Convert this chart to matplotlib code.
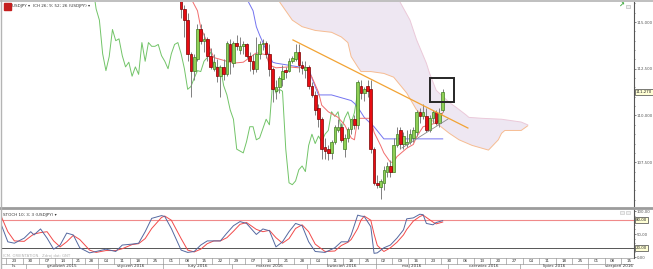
import numpy as np
import pandas as pd
import matplotlib
matplotlib.use('Agg')
import matplotlib.pyplot as plt
from matplotlib.patches import Rectangle

# ---------------- data ----------------
holidays = ['2015-12-25', '2016-01-01']
candle_start = '2016-02-01'

opens = [121.1, 120.9, 119.9, 117.9, 116.8, 116.9, 115.7, 115.1, 113.3, 112.4, 113.0, 114.6, 114.0, 114.1, 113.2,
         112.5, 112.6, 112.1, 112.6, 112.2, 113.8,
         112.8, 113.9, 113.5, 113.7, 113.8, 113.2, 112.9, 112.5, 113.3, 113.8, 113.9, 113.3, 112.5, 111.3, 111.5,
         111.95, 112.45, 112.4, 112.9, 113.0, 113.4, 112.7, 112.45,
         112.6, 111.6, 111.1, 110.4, 109.8, 108.3, 108.2, 108.0, 108.6, 109.25, 109.4, 108.2, 108.8, 109.3, 109.8,
         109.5, 111.6, 111.2, 111.6, 111.4, 108.2,
         106.4, 106.2, 106.4, 107.0, 107.3, 107.0, 108.4, 109.2, 108.5, 108.45, 108.6, 108.8, 109.1, 110.2, 109.95,
         109.95, 109.2, 109.85, 110.2, 109.6, 110.3]
highs = [121.5, 121.0, 120.0, 118.0, 117.8, 117.5, 115.9, 115.5, 113.4, 113.3, 114.9, 114.9, 114.4, 114.2, 113.6,
         113.3, 113.0, 112.7, 113.0, 114.0, 114.1,
         114.0, 114.3, 114.2, 114.0, 113.9, 113.4, 113.3, 114.2, 114.0, 114.1, 114.0, 113.8, 112.6, 111.9, 112.1,
         112.7, 112.6, 113.1, 113.2, 113.8, 113.8, 112.9, 112.9,
         112.7, 111.8, 111.3, 110.6, 109.9, 108.8, 108.4, 108.7, 109.5, 109.8, 109.6, 109.0, 109.4, 109.8, 110.0,
         111.9, 111.9, 111.5, 111.9, 111.9, 108.3,
         106.8, 106.6, 107.3, 107.5, 107.6, 108.8, 109.4, 109.4, 109.1, 109.2, 109.3, 109.4, 110.3, 110.4, 110.6,
         110.4, 110.0, 110.3, 110.3, 110.4, 111.4]
lows = [120.6, 119.8, 117.6, 116.7, 116.5, 115.2, 114.2, 112.9, 111.0, 111.9, 112.9, 113.8, 113.4, 112.9, 112.5,
        112.4, 111.8, 111.0, 111.9, 112.1, 112.2,
        112.6, 113.5, 113.3, 113.3, 113.1, 112.4, 112.2, 112.3, 113.0, 113.5, 113.1, 112.1, 110.7, 110.9, 111.2,
        111.6, 112.0, 112.3, 112.8, 112.9, 112.3, 112.2, 112.0,
        111.4, 111.0, 110.0, 109.4, 107.7, 107.7, 107.6, 107.7, 108.5, 109.1, 108.6, 107.8, 108.6, 109.0, 109.3,
        109.3, 110.9, 110.8, 111.0, 108.0, 106.3,
        106.1, 105.55, 106.0, 106.7, 106.7, 107.0, 108.3, 108.2, 108.2, 108.3, 108.5, 108.6, 108.9, 109.6, 109.8,
        109.1, 109.1, 109.6, 109.5, 109.4, 110.2]
closes = [120.9, 119.9, 117.9, 116.8, 116.9, 115.7, 115.1, 113.3, 112.4, 113.15, 114.6, 114.0, 114.1, 113.2, 112.6,
          112.85, 112.1, 112.6, 112.2, 113.9, 112.9,
          113.9, 113.7, 113.7, 113.8, 113.2, 112.9, 112.5, 113.3, 113.8, 113.9, 113.3, 112.5, 111.4, 111.55, 112.0,
          112.4, 112.35, 112.9, 113.1, 113.4, 112.7, 112.55, 112.6,
          111.6, 111.1, 110.3, 109.8, 108.2, 108.1, 108.0, 108.6, 109.4, 109.4, 108.7, 108.8, 109.3, 109.8, 109.5,
          111.8, 111.2, 111.4, 111.3, 108.2, 106.4,
          106.3, 106.5, 107.1, 107.3, 107.0, 108.4, 109.0, 108.5, 108.9, 108.6, 109.0, 109.2, 110.2, 109.95, 110.2,
          109.2, 109.85, 110.2, 109.6, 110.15, 111.27]

# Ichimoku lines (bar index, price)
tenkan_x = [55, 58, 59, 62, 63, 65, 69, 72, 74, 76, 79, 80, 82, 86, 89, 91, 93, 95, 96, 98, 101, 103, 105, 106,
            107, 110, 111, 112, 114, 115, 117, 118, 119, 122, 124, 125, 127, 131, 132, 133]
tenkan_y = [116.6, 115.6, 114.7, 113.5, 113.1, 113.0, 112.8, 112.85, 113.1, 113.35, 113.25, 112.7, 112.55, 112.6,
            112.55, 112.6, 112.05, 111.25, 110.55, 110.2, 109.9, 109.5, 108.8, 108.7,
            109.85, 109.85, 109.85, 109.1, 108.4, 108.0, 107.5, 107.5, 107.8, 108.25, 108.45, 108.85, 109.4, 109.6,
            109.75, 110.15]
kijun_x = [72, 75, 76, 77, 79, 81, 82, 89, 92, 93, 95, 99, 102, 105, 106, 107, 109, 112, 115, 133]
kijun_y = [116.6, 115.6, 114.75, 114.3, 113.5, 112.85, 112.8, 112.6, 112.55, 112.0, 111.1, 111.1, 110.95, 110.8,
           110.65, 110.45, 109.9, 109.4, 108.75, 108.75]
span_a_x = [81, 83, 87, 90, 94, 99, 102, 104, 105, 107, 108, 111, 115, 118, 122, 125, 128, 131, 135, 138, 142, 145,
            147, 150, 151, 152, 157, 159]
span_a_y = [116.8, 116.1, 115.1, 114.75, 114.55, 114.45, 114.2, 113.9, 113.15, 112.6, 112.35, 112.35, 112.25,
            112.05, 111.2, 110.3, 109.9, 109.6, 109.05, 108.7, 108.4, 108.25, 108.15, 108.7, 109.05, 109.2, 109.2,
            109.45]
span_b_x = [81, 118, 120, 123, 125, 128, 129, 131, 135, 137, 140, 141, 145, 151, 157, 159]
span_b_y = [117.5, 117.3, 116.05, 115.1, 114.05, 112.8, 112.25, 111.35, 110.7, 110.45, 110.05, 109.9, 109.85,
            109.8, 109.65, 109.5]
chikou_shift = 26

# drawn objects (bar index, price)
trend_orange = ([87.2, 140.7], [114.04, 109.33])
trend_gray = ([120.5, 134.6], [108.26, 109.81])
box_zone = (129.1, 110.74, 136.5, 112.02)
last_price = 111.27

# Stochastic (bar index, value)
stoch_x = [-2, 0, 2, 5, 7, 8, 10, 12, 14, 16, 18, 20, 22, 25, 27, 30, 33, 35, 38, 40, 42, 44, 47, 48, 50, 53, 55,
           57, 59, 61, 63, 65, 67, 69, 71, 73, 76, 78, 80, 82, 84, 86, 88, 90, 92, 94, 97, 100, 102, 104, 105, 107,
           108, 109, 111, 112, 113, 115, 117, 119, 121, 122, 124, 126, 127, 128, 130, 131, 133]
stoch_k = [70, 33, 30, 41, 55, 48, 61, 41, 17, 26, 52, 48, 20, 9, 12, 17, 12, 26, 28, 30, 55, 84, 90, 88, 62, 15,
           10, 12, 26, 35, 35, 35, 52, 68, 77, 73, 49, 61, 57, 22, 33, 55, 73, 68, 33, 12, 10, 20, 33, 33, 48, 91,
           89, 88, 66, 8, 9, 20, 26, 41, 59, 83, 85, 93, 92, 73, 70, 75, 79]
stoch_d = [88, 55, 35, 34, 45, 50, 53, 55, 35, 22, 33, 47, 38, 15, 10, 14, 14, 18, 27, 29, 40, 62, 86, 89, 80, 40,
           15, 11, 17, 29, 35, 35, 42, 56, 71, 75, 60, 55, 58, 42, 30, 40, 62, 70, 55, 28, 12, 13, 25, 32, 38, 62,
           80, 89, 80, 50, 25, 12, 20, 32, 48, 60, 78, 88, 91, 86, 76, 72, 76]
stoch_levels = [80, 20]

month_labels = ['lis', 'grudzień 2015', 'styczeń 2016', 'luty 2016', 'marzec 2016', 'kwiecień 2016',
                'maj 2016', 'czerwiec 2016', 'lipiec 2016', 'sierpień 2016']
price_ticks = [107.5, 110.0, 112.5, 115.0]
stoch_ticks = [0, 50, 100]

# ---------------- layout ----------------
W, H = 653, 269
fig = plt.figure(figsize=(W / 100, H / 100), dpi=100)
fig.patch.set_facecolor('white')


def fx(px):
    return px / W


def fy(py):
    return 1 - py / H


dates = pd.bdate_range('2015-11-23', '2016-08-31')
dates = dates[~dates.isin(pd.to_datetime(holidays))]
XMIN, XMAX = -2.09, 191.5
L_PX, R_PX = 1, 634
FS = 3.2
FT = 2.8

ax = fig.add_axes([fx(L_PX), fy(206), fx(R_PX) - fx(L_PX), 204 / H])
ax.set_xlim(XMIN, XMAX)
ax.set_ylim(105.16, 116.07)

# cloud
cx = list(span_a_x) + list(span_b_x[::-1])
cy = list(span_a_y) + list(span_b_y[::-1])
ax.fill(cx, cy, color='#eee7f2', lw=0, zorder=1)
ax.plot(span_a_x, span_a_y, color='#f6bc92', lw=0.7, zorder=1.5)
ax.plot(span_b_x, span_b_y, color='#ebc9d9', lw=0.7, zorder=1.5)

o = np.array(opens)
hh = np.array(highs)
ll = np.array(lows)
c = np.array(closes)
x0 = dates.get_loc(pd.Timestamp(candle_start))
xs = x0 + np.arange(len(o))

# chikou, tenkan, kijun
ax.plot(xs - chikou_shift, c, color='#72c468', lw=0.7, zorder=2)
ax.plot(tenkan_x, tenkan_y, color='#f26d6d', lw=0.7, zorder=2.2)
ax.plot(kijun_x, kijun_y, color='#7373f0', lw=0.7, zorder=2.1)

# candles
up = c >= o
ax.vlines(xs, ll, hh, color='#808080', lw=0.7, zorder=3)
hgt = np.maximum(np.abs(c - o), 0.05)
ax.bar(xs[up], hgt[up], bottom=np.minimum(o, c)[up], width=0.8, color='#8fcf55',
       edgecolor='#3f7f22', lw=0.5, zorder=4)
ax.bar(xs[~up], hgt[~up], bottom=np.minimum(o, c)[~up], width=0.8, color='#e80c12',
       edgecolor='#7a0000', lw=0.5, zorder=4)

# drawings
ax.plot(*trend_orange, color='#f2a334', lw=0.9, zorder=5)
ax.plot(*trend_gray, color='#8a8a8a', lw=0.6, zorder=5)
bx0, by0, bx1, by1 = box_zone
ax.add_patch(Rectangle((bx0, by0), bx1 - bx0, by1 - by0, fill=False, ec='#262626', lw=1.4, zorder=6))

# right price axis
ax.yaxis.tick_right()
ax.set_yticks(price_ticks)
ax.set_yticklabels([f"{v:.3f}".replace('.', ',') for v in price_ticks])
ax.set_yticks(np.arange(105.5, 116.01, 0.5), minor=True)
ax.tick_params(axis='y', which='both', direction='out', length=1.4, width=0.5, colors='#555555',
               labelsize=FT, pad=0.6)
ax.tick_params(axis='y', which='minor', length=1.0)
ax.set_xticks([])
for s in ['top', 'left', 'bottom']:
    ax.spines[s].set_visible(False)
ax.spines['right'].set_color('#555555')
ax.spines['right'].set_linewidth(0.8)
ax.text(1.003, last_price, f"{last_price:.3f}".replace('.', ','), transform=ax.get_yaxis_transform(),
        fontsize=FT, va='center', ha='left', color='#222222', clip_on=False, zorder=10,
        bbox=dict(boxstyle='square,pad=0.2', fc='#ffffd5', ec='#444444', lw=0.5))

# header
fig.add_artist(Rectangle((fx(4), fy(9.5)), fx(7), 6.5 / H, color='#c41e1e', transform=fig.transFigure))
fig.text(fx(12), fy(6.3), 'USDJPY ▾', fontsize=FS - 0.2, va='center', ha='left', color='#333333')
fig.text(fx(33), fy(6.3), 'ICH 26; 9; 52; 26 (USDJPY) ▾', fontsize=FS - 0.2, va='center', ha='left',
         color='#333333')
fig.text(fx(621), fy(6), '↗', fontsize=5, va='center', ha='center', color='#3aa83a', fontweight='bold')
fig.add_artist(Rectangle((fx(626), fy(8)), fx(3.5), 3.5 / H, fc='#f0f0f0', ec='#b0b0b0', lw=0.4,
                         transform=fig.transFigure))

# ---------------- stochastic ----------------
axs = fig.add_axes([fx(L_PX), fy(258), fx(R_PX) - fx(L_PX), 49 / H])
axs.set_xlim(XMIN, XMAX)
axs.set_ylim(-2.17, 104.35)
axs.axhline(stoch_levels[0], color='#f08a8a', lw=0.8, zorder=1)
axs.axhline(stoch_levels[1], color='#555555', lw=0.7, zorder=1)
axs.plot(stoch_x, stoch_k, color='#5468a0', lw=0.7, zorder=3)
axs.plot(stoch_x, stoch_d, color='#f24a4a', lw=0.7, zorder=2)
axs.yaxis.tick_right()
axs.set_yticks(stoch_ticks)
axs.set_yticklabels([f"{v:.2f}".replace('.', ',') for v in stoch_ticks])
axs.set_yticks(np.arange(10, 100, 10), minor=True)
axs.tick_params(axis='y', which='both', direction='out', length=1.4, width=0.5, colors='#555555',
                labelsize=FT, pad=0.6)
axs.tick_params(axis='y', which='minor', length=1.0)
axs.set_xticks([])
for s in ['top', 'left', 'bottom']:
    axs.spines[s].set_visible(False)
axs.spines['right'].set_color('#555555')
axs.spines['right'].set_linewidth(0.8)
for lv in stoch_levels:
    axs.text(1.003, lv, f"{lv:.2f}".replace('.', ','), transform=axs.get_yaxis_transform(), fontsize=FT,
             va='center', ha='left', color='#222222', clip_on=False, zorder=10,
             bbox=dict(boxstyle='square,pad=0.2', fc='#ffffd5', ec='#444444', lw=0.5))
axs.text(0.003, 0.88, 'STOCH 10; 3; 3 (USDJPY) ▾', transform=axs.transAxes, fontsize=FS - 0.2,
         va='center', ha='left', color='#333333')
axs.text(0.003, 0.05, 'ICM. ORIENTATION.  Zdroj dat: GNT', transform=axs.transAxes, fontsize=FS - 0.5,
         va='center', ha='left', color='#b0b0b0')
for k, px in enumerate([620, 626]):
    fig.add_artist(Rectangle((fx(px), fy(214)), fx(3.5), 3.5 / H, fc='#f0f0f0', ec='#c0c0c0', lw=0.4,
                             transform=fig.transFigure))

# ---------------- date axis ----------------
axd = fig.add_axes([fx(L_PX), 0, fx(R_PX) - fx(L_PX), 11 / H])
axd.set_xlim(XMIN, XMAX)
axd.set_ylim(0, 2)
axd.axis('off')
weeks = dates.to_period('W')
wk_starts = [j for j in range(len(dates)) if j == 0 or weeks[j] != weeks[j - 1]]
mo = dates.to_period('M')
mo_starts = [j for j in range(len(dates)) if j == 0 or mo[j] != mo[j - 1]]
lc = '#9a9a9a'
for y in [0.02, 1.0, 1.98]:
    axd.axhline(y, color=lc, lw=0.5)
for k, j in enumerate(wk_starts):
    axd.plot([j - 0.5, j - 0.5], [1, 2], color=lc, lw=0.5, clip_on=True)
    nxt = wk_starts[k + 1] if k + 1 < len(wk_starts) else len(dates)
    xc = (j - 0.5 + nxt - 0.5) / 2
    if xc < XMAX:
        axd.text(xc, 1.5, f"{dates[j].day:02d}", fontsize=FS - 0.2, ha='center', va='center',
                 color='#333333', clip_on=True)
bounds = [XMIN] + [j - 0.5 for j in mo_starts[1:]] + [XMAX + 5]
for k, lab in enumerate(month_labels):
    a, b = bounds[k], bounds[k + 1]
    if k > 0:
        axd.plot([a, a], [0, 1], color=lc, lw=0.5)
    axd.text((a + b) / 2, 0.5, lab, fontsize=FS - 0.2, ha='center', va='center', color='#333333',
             clip_on=True)

# frame lines
fig.add_artist(plt.Line2D([0, 1], [fy(207.5), fy(207.5)], color='#9c9c9c', lw=2.0, transform=fig.transFigure))
fig.add_artist(plt.Line2D([0, 1], [fy(1), fy(1)], color='#b4b4b4', lw=1.2, transform=fig.transFigure))
fig.add_artist(plt.Line2D([fx(0.6), fx(0.6)], [0, 1], color='#b4b4b4', lw=1.0, transform=fig.transFigure))
fig.add_artist(plt.Line2D([fx(652.5), fx(652.5)], [0, 1], color='#c8c8c8', lw=0.6, transform=fig.transFigure))

fig.savefig('out.png', dpi=100, facecolor='white')
